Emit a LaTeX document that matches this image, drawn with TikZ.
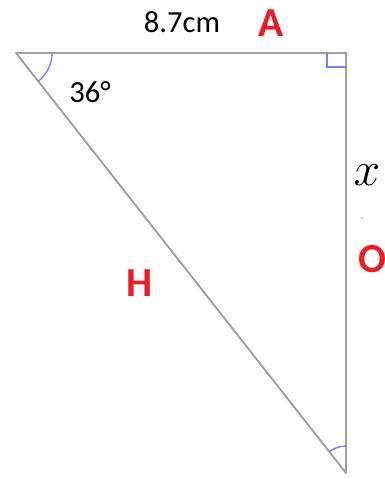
\RequirePackage{fix-cm}
\documentclass[tikz,border=0pt]{standalone}
\usepackage{fontspec}
\setmainfont{Carlito}
\usetikzlibrary{calc}
\definecolor{sidegray}{RGB}{160,160,160}
\definecolor{arcblue} {RGB}{125,125,255}
\definecolor{labred}  {RGB}{237, 28, 36}
\begin{document}
\begin{tikzpicture}[
  x=0.75pt,y=0.75pt,
  side/.style={draw=sidegray,line width=1.4pt,line join=round},
  angmark/.style={draw=arcblue,line width=1pt},
  lbl/.style={font=\fontsize{23}{27}\selectfont,inner sep=0pt},
  redlbl/.style={font=\fontsize{31}{36}\selectfont\bfseries,text=labred,inner sep=0pt},
]
\useasboundingbox (0,0) rectangle (385,479);

%% ── Triangle ────────────────────────────────────────────
\coordinate (TL) at (16,426);
\coordinate (TR) at (346,426);
\coordinate (B)  at (346,6);
\draw[side] (TL) -- (TR) -- (B) -- cycle;

%% ── Angle marks ─────────────────────────────────────────
\draw[angmark] ($(TL)+(36,0)$) arc[start angle=0,end angle=-51.8,radius=36];
\draw[angmark] ($(TR)+(-19,0)$) -- ++(0,-14) -- ++(19,0);
\draw[angmark] ($(B)+(0,27)$) arc[start angle=90,end angle=128.2,radius=27];

%% ── Labels ──────────────────────────────────────────────
\node[lbl] (len) at (182,457) {8.7cm};
\node[redlbl] (A) at (271,456) {A};
\node[lbl] (ang) at (90,387) {36°};
\node[inner sep=0pt,font=\fontsize{36}{36}\selectfont] (x) at (367,304) {$x$};
\fill[sidegray] (362,261) circle[radius=1];
\node[redlbl] (O) at (372,220) {O};
\node[redlbl] (H) at (140,196) {H};

\end{tikzpicture}
\end{document}
